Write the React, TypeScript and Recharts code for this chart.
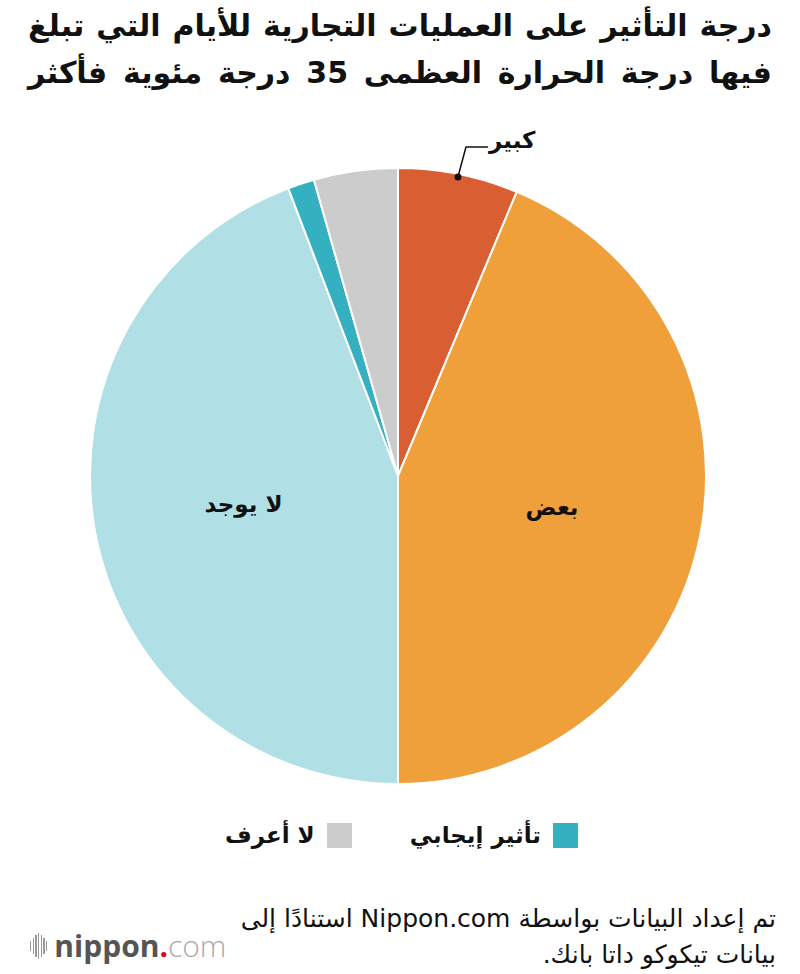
import { PieChart, Pie, Cell } from "recharts";

const categories = ["كبير", "بعض", "لا يوجد", "تأثير إيجابي", "لا أعرف"];
const shares = [6.3, 43.7, 44.2, 1.4, 4.4];
const colors = ["#d95f32", "#f0a03a", "#b0dfe5", "#35b0c0", "#cccccc"];
const insideLabels = ["بعض", "لا يوجد"];
const legendItems = ["تأثير إيجابي", "لا أعرف"];
const titleLines = [
  "درجة التأثير على العمليات التجارية للأيام التي تبلغ",
  "فيها درجة الحرارة العظمى 35 درجة مئوية فأكثر",
];
const sourceLines = ["تم إعداد البيانات بواسطة Nippon.com استنادًا إلى", "بيانات تيكوكو داتا بانك."];

const data = categories.map((name, i) => ({ name, value: shares[i], color: colors[i] }));

const RADIAN = Math.PI / 180;
const arabicFont = "'DejaVu Sans', 'Noto Sans', sans-serif";

interface LabelProps {
  cx: number;
  cy: number;
  midAngle: number;
  outerRadius: number;
  name: string;
}

function SliceLabel({ cx, cy, midAngle, outerRadius, name }: LabelProps) {
  const cos = Math.cos(-midAngle * RADIAN);
  const sin = Math.sin(-midAngle * RADIAN);
  if (insideLabels.includes(name)) {
    const r = outerRadius * 0.51;
    return (
      <text
        x={cx + r * cos}
        y={cy + r * sin}
        textAnchor="middle"
        dominantBaseline="central"
        fontFamily={arabicFont}
        fontWeight="bold"
        fontSize={23}
        fill="#111"
      >
        {name}
      </text>
    );
  }
  if (name === "كبير") {
    const r = outerRadius * 0.99;
    const px = cx + r * cos;
    const py = cy + r * sin;
    const kx = px + 8;
    const ky = py - 30;
    return (
      <g>
        <circle cx={px} cy={py} r={3.5} fill="#111" />
        <polyline points={`${px},${py} ${kx},${ky} ${kx + 22},${ky}`} fill="none" stroke="#111" strokeWidth={1.5} />
        <text
          x={kx + 23}
          y={ky - 7}
          textAnchor="start"
          dominantBaseline="central"
          fontFamily={arabicFont}
          fontWeight="bold"
          fontSize={23}
          fill="#111"
        >
          {name}
        </text>
      </g>
    );
  }
  return null;
}

function Legend() {
  return (
    <div
      style={{
        position: "absolute",
        top: 820,
        right: 222,
        display: "flex",
        direction: "rtl",
        gap: 58,
        fontFamily: arabicFont,
        fontWeight: "bold",
        fontSize: 23,
        lineHeight: "30px",
        color: "#111",
      }}
    >
      {legendItems.map((name) => {
        const idx = categories.indexOf(name);
        return (
          <div key={name} style={{ display: "flex", alignItems: "center", gap: 12 }}>
            <span style={{ width: 25, height: 25, background: colors[idx], display: "inline-block" }} />
            <span>{name}</span>
          </div>
        );
      })}
    </div>
  );
}

function Logo() {
  const bars = [10, 16, 22, 26, 22, 16, 10];
  return (
    <div style={{ position: "absolute", left: 30, top: 930, display: "flex", alignItems: "center", height: 32 }}>
      <div style={{ display: "flex", alignItems: "center", gap: 1.5, marginRight: 7 }}>
        {bars.map((h, i) => (
          <span key={i} style={{ width: 1.2, height: h, background: "#999", display: "inline-block" }} />
        ))}
      </div>
      <span style={{ fontFamily: "'Open Sans', sans-serif", fontSize: 30, lineHeight: "32px", color: "#555" }}>
        <span style={{ fontWeight: "bold" }}>nippon</span>
        <span style={{ color: "#e60012", fontWeight: "bold" }}>.</span>
        <span style={{ color: "#aaa", fontWeight: 300 }}>com</span>
      </span>
    </div>
  );
}

export default function App() {
  return (
    <div style={{ position: "absolute", left: 0, top: 0, width: 800, height: 974, background: "#fff", overflow: "hidden" }}>
      <div
        style={{
          position: "absolute",
          top: 2,
          left: 28,
          width: 744,
          direction: "rtl",
          fontFamily: arabicFont,
          fontWeight: "bold",
          fontSize: 30,
          lineHeight: "47px",
          color: "#111",
        }}
      >
        {titleLines.map((line) => (
          <div key={line} style={{ whiteSpace: "nowrap", textAlign: "justify", textAlignLast: "justify" }}>
            {line}
          </div>
        ))}
      </div>
      <div style={{ position: "absolute", left: 0, top: 0 }}>
        <PieChart width={800} height={974} margin={{ top: 0, right: 0, bottom: 0, left: 0 }}>
          <Pie
            data={data}
            dataKey="value"
            nameKey="name"
            cx={398}
            cy={476}
            outerRadius={308}
            startAngle={90}
            endAngle={-270}
            stroke="#fff"
            strokeWidth={2}
            labelLine={false}
            label={SliceLabel as any}
            isAnimationActive={false}
          >
            {data.map((d) => (
              <Cell key={d.name} fill={d.color} />
            ))}
          </Pie>
        </PieChart>
      </div>
      <Legend />
      <Logo />
      <div
        style={{
          position: "absolute",
          top: 901,
          right: 24,
          width: 620,
          direction: "rtl",
          textAlign: "right",
          fontFamily: arabicFont,
          fontSize: 25,
          lineHeight: "36px",
          color: "#111",
        }}
      >
        {sourceLines.map((line) => (
          <div key={line}>{line}</div>
        ))}
      </div>
    </div>
  );
}
